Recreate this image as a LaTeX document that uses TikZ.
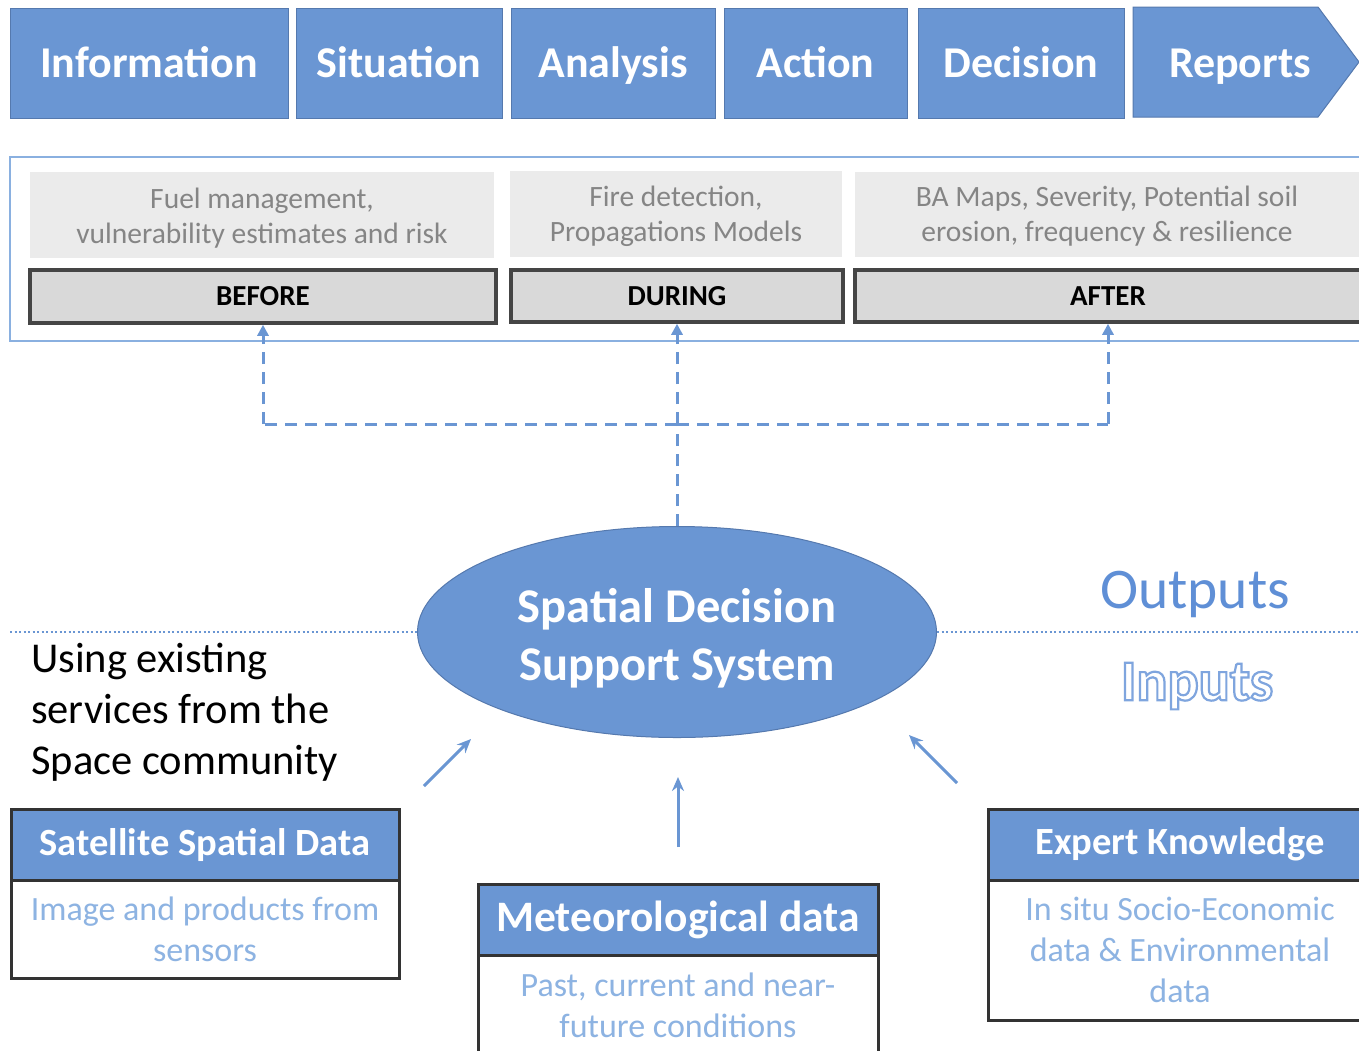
\documentclass[tikz,border=0pt]{standalone}
\usepackage{fontspec}
\setmainfont{Carlito}
\usetikzlibrary{shapes.geometric,arrows.meta}
\definecolor{blueA}{HTML}{6A96D3}
\definecolor{blueB}{HTML}{5579AE}
\definecolor{lblue}{HTML}{8DB3E2}
\definecolor{frameblue}{HTML}{8AB0E0}
\definecolor{grayfill}{HTML}{EBEBEB}
\definecolor{graytext}{HTML}{858585}
\definecolor{labfill}{HTML}{D9D9D9}
\definecolor{labdraw}{HTML}{454545}
\definecolor{outtext}{HTML}{5F8FD6}
\newcommand{\strokedtext}[1]{\special{pdf:code 1 Tr 2.2 w}#1\special{pdf:code 0 Tr}}
\tikzset{
  phase/.style={draw=blueB, fill=blueA, line width=1pt, minimum height=110, inner sep=0,
    text=white, text height=30pt, text depth=1pt, font=\fontsize{44}{52}\selectfont\bfseries},
  infobox/.style={fill=grayfill, inner sep=0, align=center, text=graytext,
    font=\fontsize{29.5}{35}\selectfont},
  labbox/.style={fill=labfill, draw=labdraw, line width=3.5pt, inner sep=0,
    font=\fontsize{29}{32}\selectfont\bfseries, text=black},
  dashline/.style={draw=blueA, line width=3pt, dash pattern=on 12pt off 8pt},
  dasharrow/.style={dashline, -{Triangle[length=11pt,width=11pt]}},
  dotline/.style={draw=blueA, line width=2.2pt, dash pattern=on 2pt off 2.5pt},
  inarrow/.style={draw=blueA, line width=3pt, -{Stealth[length=14pt,width=12pt]}},
  headbox/.style={fill=blueA, draw=black!80, line width=3pt, inner sep=0,
    text=white, font=\fontsize{38.5}{44}\selectfont\bfseries},
  bodybox/.style={fill=white, draw=black!80, line width=3pt, inner sep=0, align=center,
    text=lblue, font=\fontsize{34}{41}\selectfont},
}
\begin{document}
\begin{tikzpicture}[x=1pt,y=-1pt]
\useasboundingbox (0,0) rectangle (1359,1050);
\clip (0,0) rectangle (1359,1050);
\fill[white] (0,0) rectangle (1359,1050);

% top process chevrons
\node[phase, minimum width=278] (info) at (149,63) {Information};
\node[phase, minimum width=206] (sit) at (399,63) {Situation};
\node[phase, minimum width=204] (ana) at (613,63) {Analysis};
\node[phase, minimum width=183] (act) at (815.5,63) {Action};
\node[phase, minimum width=206] (dec) at (1021,63) {Decision};
\draw[draw=blueB, fill=blueA, line width=1pt] (1133,7) -- (1318,7) -- (1359,62) -- (1318,117) -- (1133,117) -- cycle;
\node[text=white, inner sep=0, text height=30pt, text depth=1pt, font=\fontsize{44}{52}\selectfont\bfseries] (rep) at (1240,63) {Reports};

% phases frame
\draw[frameblue, line width=2pt] (10,157) rectangle (1380,341);
\node[infobox, minimum width=464, minimum height=86] (tbefore) at (262,215) {\rule{0pt}{26pt}Fuel management,\\vulnerability estimates and risk};
\node[infobox, minimum width=332, minimum height=86] (tduring) at (676,214) {\rule{0pt}{25pt}Fire detection,\\Propagations Models};
\node[infobox, minimum width=525, minimum height=85] (tafter) at (1117,214) {\rule{0pt}{25pt}\hspace*{-20pt}BA Maps, Severity, Potential soil\\\hspace*{-20pt}erosion, frequency \& resilience};
\node[labbox, minimum width=466, minimum height=53] (before) at (263,296.5) {BEFORE};
\node[labbox, minimum width=332, minimum height=52] (during) at (677,296) {DURING};
\node[labbox, minimum width=515, minimum height=52, text width=515, align=center] (after) at (1112.5,296) {\hspace*{-9pt}AFTER};

% central ellipse
\node[ellipse, fill=blueA, draw=blueB, line width=1pt, minimum width=519, minimum height=211,
  inner sep=0, align=center, text=white, font=\fontsize{48.5}{58}\selectfont\bfseries] (ssa) at (677,632)
  {\rule{0pt}{46pt}Spatial Decision\\Support System};

% dashed outputs
\coordinate (junc) at (677,424);
\coordinate (bx) at (263,424);
\coordinate (ax) at (1108,424);
\draw[dashline] (ssa.north) -- (junc);
\draw[dasharrow] (junc) -- (during.south);
\draw[dashline] (junc) -- (bx);
\draw[dasharrow] (bx) -- (before.south);
\draw[dashline] (junc) -- (ax);
\draw[dasharrow] (ax) -- (ax |- after.south);

% dotted separator
\coordinate (dl) at (10,632);
\coordinate (dr) at (1359,632);
\draw[dotline] (dl) -- (ssa.west);
\draw[dotline] (ssa.east) -- (dr);

\node[text=outtext, font=\fontsize{57.5}{60}\selectfont] (outputs) at (1195,594) {Outputs};
\node[text=outtext!80, font=\fontsize{58}{60}\selectfont\bfseries] (inputs) at (1197,686) {\strokedtext{Inputs}};

\node[align=left, anchor=west, font=\fontsize{42.5}{51}\selectfont, text=black, inner sep=0] (using) at (31,712)
  {Using existing\\services from the\\Space community};

% input boxes
\node[headbox, minimum width=388, minimum height=71] (sathead) at (205,844.5) {Satellite Spatial Data};
\node[bodybox, minimum width=388, minimum height=98] (satbody) at (205,929) {Image and products from\\sensors};
\node[headbox, minimum width=400, minimum height=71, font=\fontsize{43.5}{48}\selectfont\bfseries] (methead) at (678,919.5) {Meteorological data};
\node[bodybox, minimum width=400, minimum height=100] (metbody) at (678,1005) {Past, current and near-\\future conditions};
\node[headbox, minimum width=384, minimum height=71] (exphead) at (1180,844.5) {Expert Knowledge};
\node[bodybox, minimum width=384, minimum height=140] (expbody) at (1180,950) {In situ Socio-Economic\\data \& Environmental\\data};

% input arrows
\coordinate (a1s) at (424,786); \coordinate (a1e) at (471,739);
\coordinate (a2s) at (678,847); \coordinate (a2e) at (678,777);
\coordinate (a3s) at (957,783); \coordinate (a3e) at (909,735);
\draw[inarrow] (a1s) -- (a1e);
\draw[inarrow] (a2s) -- (a2e);
\draw[inarrow] (a3s) -- (a3e);
\end{tikzpicture}
\end{document}
